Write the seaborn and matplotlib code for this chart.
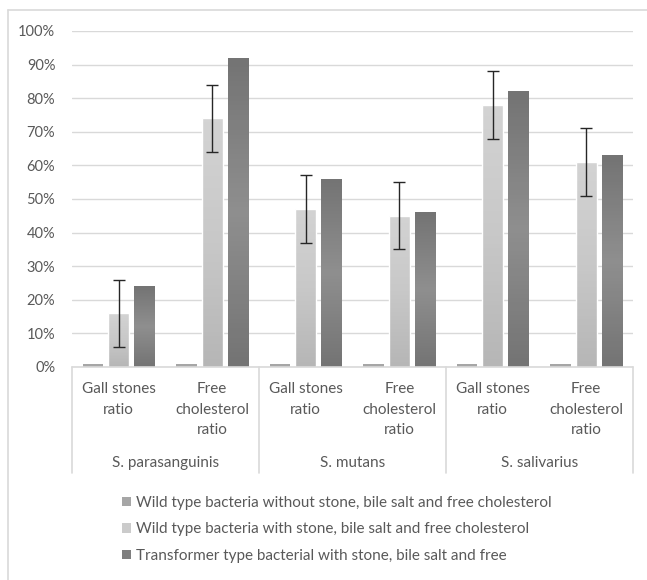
import numpy as np
import pandas as pd
import matplotlib.pyplot as plt
import seaborn as sns
from matplotlib.lines import Line2D
from matplotlib.patches import Patch
from matplotlib.colors import LinearSegmentedColormap

categories = ['Gall stones\nratio', 'Free\ncholesterol\nratio'] * 3
cat_keys = ['g1', 'f1', 'g2', 'f2', 'g3', 'f3']
groups = ['S. parasanguinis', 'S. mutans', 'S. salivarius']
series = ['Wild type bacteria without stone, bile salt and free cholesterol',
          'Wild type bacteria with stone, bile salt and free cholesterol',
          'Transformer type bacterial with stone, bile salt and free']
wild_no = [0.01, 0.01, 0.01, 0.01, 0.01, 0.01]
wild_stone = [0.16, 0.74, 0.47, 0.45, 0.78, 0.61]
transformer = [0.24, 0.92, 0.56, 0.46, 0.82, 0.63]
err = [0.10, 0.10, 0.10, 0.10, 0.10, 0.10]
colors = ['#a6a6a6', '#cbcbcb', '#7f7f7f']
text_col = '#595959'
line_col = '#d9d9d9'

# excel style gradients (bottom -> top)
grad = [None,
        LinearSegmentedColormap.from_list('lg', ['#b6b6b6', '#c8c8c8', '#d3d3d3']),
        LinearSegmentedColormap.from_list('dg', ['#747474', '#8f8f8f', '#747474'])]

rows = []
for s, vals in zip(series, [wild_no, wild_stone, transformer]):
    for k, v in zip(cat_keys, vals):
        rows.append({'cat': k, 'series': s, 'value': v})
df = pd.DataFrame(rows)

sns.set_theme(style='white')
plt.rcParams['font.family'] = ['Lato', 'DejaVu Sans']

W, H = 647, 580
fig = plt.figure(figsize=(W / 100, H / 100), dpi=100)
ax = fig.add_axes([72 / W, 1 - 367 / H, (633 - 72) / W, (367 - 31) / H])

sns.barplot(data=df, x='cat', y='value', hue='series', palette=colors,
            width=0.83, gap=0.2, ax=ax, legend=False, saturation=1,
            edgecolor='none', linewidth=0)

ax.set_ylim(0, 1)
ax.set_xlim(-0.5, 5.5)

patches = list(ax.patches)
col = np.linspace(0, 1, 64).reshape(-1, 1)
for i, p in enumerate(patches):
    s = i // 6
    if grad[s] is None:
        continue
    x0, w, h = p.get_x(), p.get_width(), p.get_height()
    im = ax.imshow(col, cmap=grad[s], origin='lower', aspect='auto',
                   extent=[x0, x0 + w, 0, h], zorder=p.get_zorder())
    im.set_clip_path(p)
    if s == 1:
        p.set_edgecolor('white')
        p.set_linewidth(1.0)
        p.set_zorder(p.get_zorder() + 0.1)
        p.set_facecolor('none')
ax.set_xlim(-0.5, 5.5)
ax.set_ylim(0, 1)

# error bars on the middle series
mid = patches[6:12]
xs = [p.get_x() + p.get_width() / 2 for p in mid]
ax.errorbar(xs, wild_stone, yerr=err, fmt='none', ecolor='#262626',
            elinewidth=1.0, capsize=4, capthick=1.0, zorder=5)

ax.set_yticks([i / 10 for i in range(11)])
ax.set_yticklabels([f'{i * 10}%' for i in range(11)], color=text_col, fontsize=10.5)
ax.yaxis.grid(True, color=line_col, linewidth=1)
ax.set_axisbelow(True)
for sp in ax.spines.values():
    sp.set_visible(False)
ax.tick_params(axis='y', length=0, pad=12)
ax.tick_params(axis='x', length=0, pad=11)
ax.set_xticks(range(6))
ax.set_xticklabels(categories, color=text_col, fontsize=11, linespacing=1.6,
                   multialignment='center')
ax.set_xlabel('')
ax.set_ylabel('')

# bottom axis line and group separators
trans = ax.get_xaxis_transform()
ax.add_line(Line2D([-0.5, 5.5], [0, 0], color=line_col, lw=1.2, transform=trans, clip_on=False))
bottom = -(473 - 367) / (367 - 31)
for x in [-0.5, 1.5, 3.5, 5.5]:
    ax.add_line(Line2D([x, x], [0, bottom], color=line_col, lw=1.2,
                       transform=trans, clip_on=False))
gy = -(463 - 367) / (367 - 31)
for i, g in enumerate(groups):
    ax.text(2 * i + 0.5, gy, g, transform=trans, ha='center', va='center',
            color=text_col, fontsize=11)

# chart frame
fig.add_artist(Line2D([8 / W, 8 / W], [0, 1 - 10 / H], color=line_col, lw=1.2))
fig.add_artist(Line2D([8 / W, 1], [1 - 10 / H, 1 - 10 / H], color=line_col, lw=1.2))

handles = [Patch(facecolor=c, edgecolor='none') for c in colors]
fig.legend(handles, series, loc='upper left', bbox_to_anchor=(108 / W, 1 - 482 / H),
           frameon=False, fontsize=11, labelcolor=text_col, handlelength=0.6,
           handleheight=0.6, handletextpad=0.3, labelspacing=0.82)

fig.savefig('out.png', dpi=100, facecolor='white')
